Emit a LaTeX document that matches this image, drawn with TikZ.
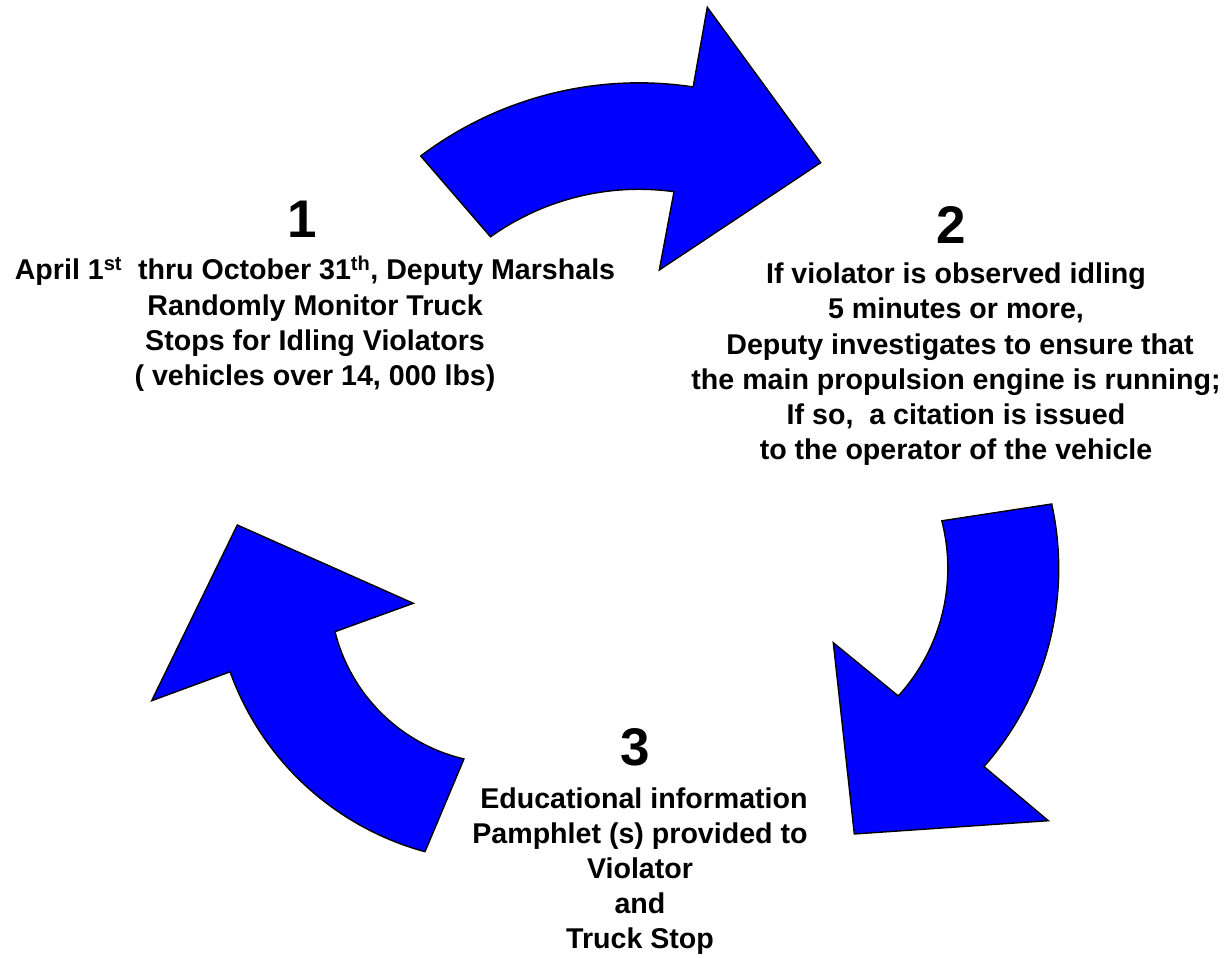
\documentclass[tikz,border=0pt]{standalone}
\usepackage{fontspec}
\setmainfont{Liberation Sans}
\usepackage{tikz}

\begin{document}
\begin{tikzpicture}[x=1pt,y=1pt,
    cyclearrow/.style={draw=black, fill=blue, line width=1.4pt, line join=miter},
    numlabel/.style={anchor=base, inner sep=0pt, font=\fontsize{53}{60}\selectfont\bfseries},
    steptext/.style={anchor=north, align=center, inner sep=0pt, font=\fontsize{28.6}{35.3}\selectfont\bfseries}]
    \useasboundingbox (0,0) rectangle (1227,956);
    \draw [cyclearrow] (420.7,800) arc [start angle=127.07, end angle=81.38, radius=362]
    -- (707.3,948.7) -- (820.7,793.3) -- (659.3,686) -- (674,764.3)
    arc [start angle=82.13, end angle=125.5, radius=255.7] -- cycle;
    \draw [cyclearrow] (1051.7,452) arc [start angle=12.41, end angle=-41.33, radius=300]
    -- (1048.3,135.3) -- (854.3,122) -- (833.3,313.3) -- (898.3,260)
    arc [start angle=-42.39, end angle=14.5, radius=189.5] -- cycle;
    \draw [cyclearrow] (425,104.3) arc [start angle=254.8, end angle=199.8, radius=287.2]
    -- (151.7,255.3) -- (237.3,431) -- (413.3,352.7) -- (335,324.3)
    arc [start angle=194, end angle=256.75, radius=174] -- cycle;
    \node [numlabel] (num1) at (302,718) {1};
    \node [numlabel] (num2) at (951,712) {2};
    \node [numlabel] (num3) at (635,190) {3};
    \node [steptext] (step1) at (315,700) {April 1\textsuperscript{st}\ \ thru October
    31\textsuperscript{th}, Deputy Marshals\\Randomly Monitor Truck\\Stops for Idling
    Violators\\( vehicles over 14, 000 lbs)};
    \node [steptext] (step2) at (956,693.5) {If violator is observed idling\\5 minutes
    or more,\\\ Deputy investigates to ensure that\\the main propulsion engine is
    running;\\If so,\ \ a citation is issued\\to the operator of the vehicle};
    \node [steptext, font=\fontsize{28.6}{34.8}\selectfont\bfseries] (step3) at (640,168)
    {\ Educational information\\Pamphlet (s) provided to\ \\Violator\\and\\Truck Stop};
  \end{tikzpicture}
\end{document}
